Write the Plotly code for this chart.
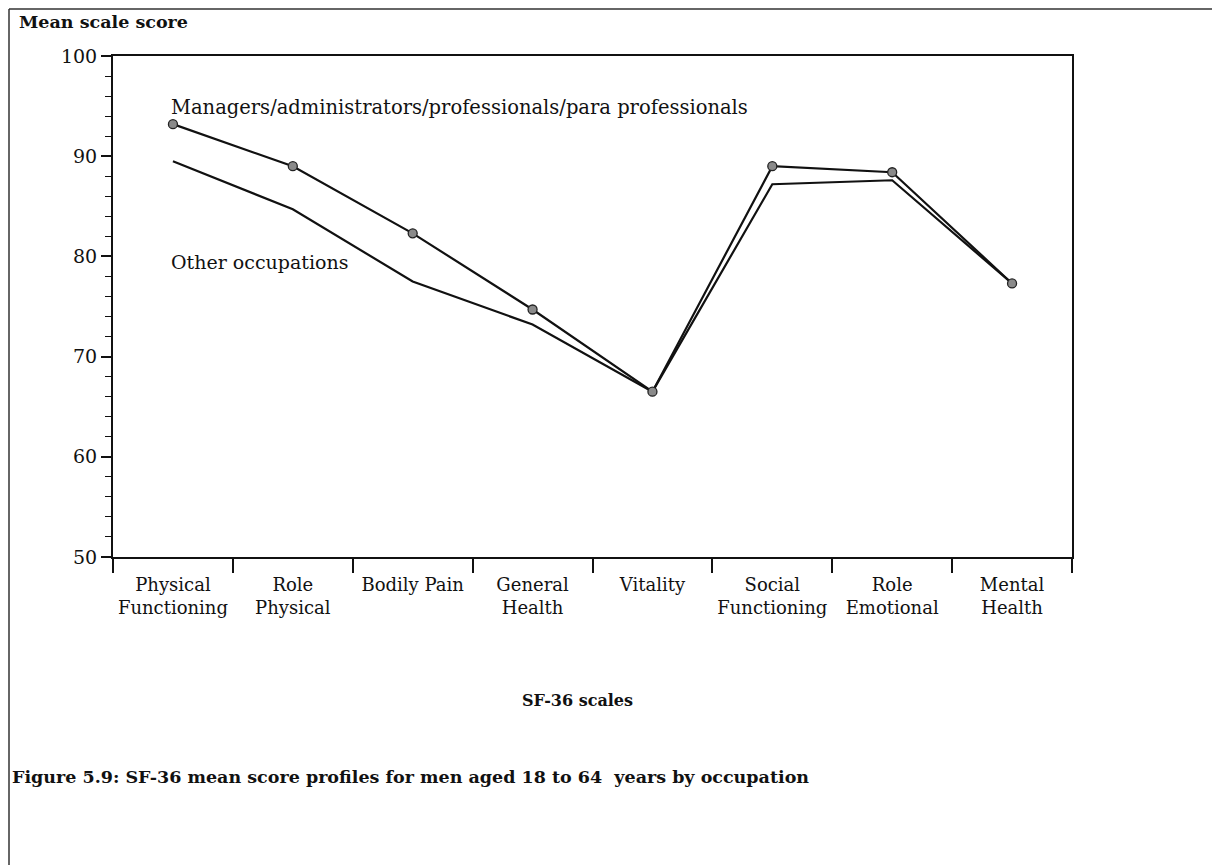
import plotly.graph_objects as go

categories = ["Physical<br>Functioning", "Role<br>Physical", "Bodily Pain", "General<br>Health",
              "Vitality", "Social<br>Functioning", "Role<br>Emotional", "Mental<br>Health"]
managers = [93.2, 89.0, 82.3, 74.7, 66.5, 89.0, 88.4, 77.3]
others = [89.5, 84.7, 77.5, 73.2, 66.5, 87.2, 87.6, 77.3]
y_ticks = [50, 60, 70, 80, 90, 100]

FONT = "DejaVu Serif"
INK = "#111"

# page offset: browser body margin of 8px
OFF = 8
L, T, W, H = 113 - OFF, 56 - OFF, 959, 501
R = 1220 - L - W
B = 865 - T - H


def px_x(px):
    return (px - OFF - L) / W


def px_y(py):
    return (T + H - (py - OFF)) / H


fig = go.Figure()
fig.add_trace(go.Scatter(x=categories, y=others, mode="lines",
                         line=dict(color=INK, width=2.2), showlegend=False))
fig.add_trace(go.Scatter(x=categories, y=managers, mode="lines+markers",
                         line=dict(color=INK, width=2.2),
                         marker=dict(size=9, color="#8a8a8a", line=dict(color="#222", width=1.3)),
                         showlegend=False))

fig.add_annotation(x=categories[0], y=94.9, xref="x", yref="y", xanchor="left", yanchor="middle",
                   xshift=-4,
                   text="Managers/administrators/professionals/para professionals",
                   showarrow=False, font=dict(family=FONT, size=19.5, color=INK))
fig.add_annotation(x=categories[0], y=79.4, xref="x", yref="y", xanchor="left", yanchor="middle",
                   xshift=-4,
                   text="Other occupations",
                   showarrow=False, font=dict(family=FONT, size=19, color=INK))
fig.add_annotation(x=px_x(17), y=px_y(22), xref="paper", yref="paper", text="<b>Mean scale score</b>",
                   showarrow=False, xanchor="left", yanchor="middle",
                   font=dict(family=FONT, size=17.5, color=INK))
fig.add_annotation(x=px_x(577), y=px_y(700), xref="paper", yref="paper", text="<b>SF-36 scales</b>",
                   showarrow=False, xanchor="center", yanchor="middle",
                   font=dict(family=FONT, size=16, color=INK))
fig.add_annotation(x=px_x(10), y=px_y(777), xref="paper", yref="paper",
                   text="<b>Figure 5.9: SF-36 mean score profiles for men aged 18 to 64  years by occupation</b>",
                   showarrow=False, xanchor="left", yanchor="middle",
                   font=dict(family=FONT, size=17.5, color=INK))

# page frame lines (left and top)
fig.add_shape(type="line", xref="paper", yref="paper", x0=px_x(9), x1=px_x(9), y0=px_y(9), y1=px_y(880),
              line=dict(color="#333", width=1.5))
fig.add_shape(type="line", xref="paper", yref="paper", x0=px_x(9), x1=px_x(1240), y0=px_y(9), y1=px_y(9),
              line=dict(color="#333", width=1.5))

fig.update_layout(
    width=1220, height=865,
    margin=dict(l=L, r=R, t=T, b=B),
    paper_bgcolor="white", plot_bgcolor="white",
    font=dict(family=FONT, size=19, color=INK),
)

fig.update_xaxes(
    type="category", tickson="boundaries", ticks="outside", ticklen=14, tickwidth=1.5,
    tickcolor=INK, showline=True, linecolor=INK, linewidth=2, mirror=True,
    showgrid=False, zeroline=False, range=[-0.5, 7.5], tickangle=0, ticklabelstandoff=10,
    tickfont=dict(family=FONT, size=18, color=INK),
)
fig.update_yaxes(
    range=[50, 100], tickvals=y_ticks, ticks="outside", ticklen=10, tickwidth=1.5, tickcolor=INK,
    minor=dict(dtick=2, ticks="outside", ticklen=6, tickcolor=INK, tickwidth=1),
    showline=True, linecolor=INK, linewidth=2, mirror=True, showgrid=False, zeroline=False,
    tickfont=dict(family=FONT, size=19, color=INK),
)

fig.write_html("out.html")
